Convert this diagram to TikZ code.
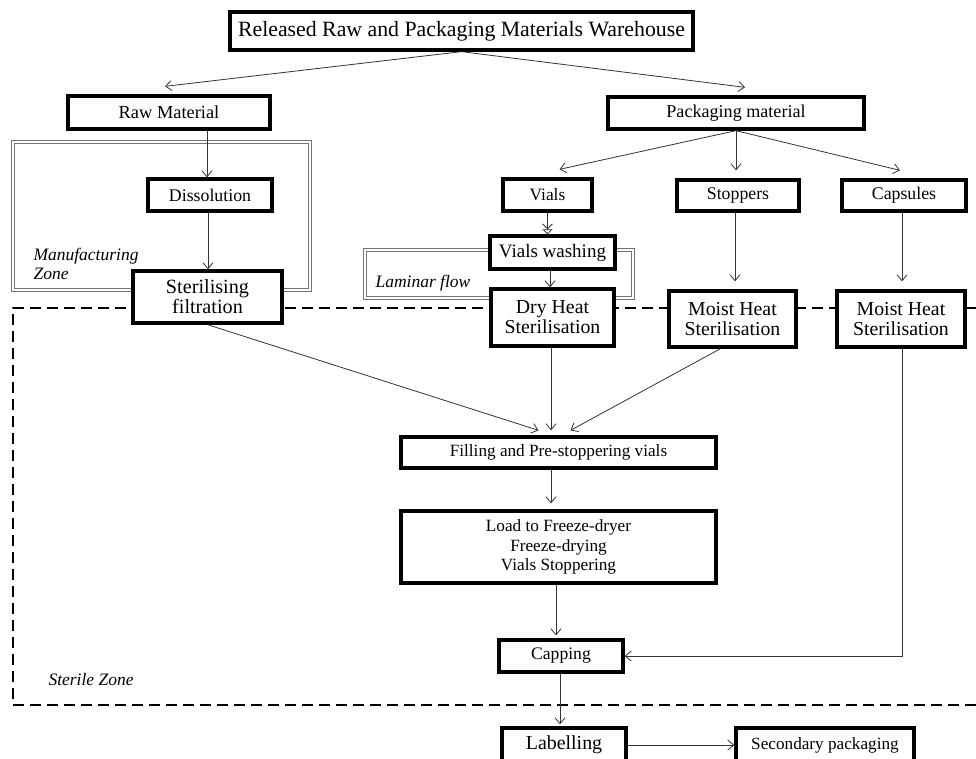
\documentclass[tikz,border=0pt]{standalone}
\usepackage{fontspec}
\setmainfont{Liberation Serif}
\usetikzlibrary{arrows.meta,positioning}
\begin{document}
\begin{tikzpicture}[x=1pt,y=-1pt,
  box/.style={draw,line width=3.3pt,inner sep=0pt,align=center,font=\fontsize{17.8}{19}\selectfont},
  conn/.style={draw=black!80,line width=0.8pt,-{Straight Barb[length=6pt,width=10pt]}},
  zone/.style={draw=black!55,double=white,double distance=1.6pt,line width=0.8pt},
  lbl/.style={font=\fontsize{17.5}{19}\selectfont\itshape,align=left,anchor=west}]
\useasboundingbox (0,0) rectangle (976,758);
% zones
\draw[zone] (13,142) rectangle (310,290);
\draw[zone] (365,250) rectangle (633,298);
\draw[line width=2.6pt,dash pattern=on 11pt off 6pt] (976,308) -- (13,308) -- (13,705) -- (976,705);
% nodes
\node[box,minimum width=463pt,minimum height=38pt,font=\fontsize{21.8}{23}\selectfont,fill=white] (wh) at (461.5,31) {Released Raw and Packaging Materials Warehouse};
\node[box,minimum width=202pt,minimum height=33pt,font=\fontsize{18.4}{19}\selectfont] (raw) at (169,112.5) {Raw Material};
\node[box,minimum width=256pt,minimum height=32pt,font=\fontsize{18.1}{19}\selectfont] (pack) at (736,113) {Packaging material};
\node[box,minimum width=124pt,minimum height=32pt] (dis) at (210,195) {Dissolution};
\node[box,minimum width=149pt,minimum height=52pt,fill=white,font=\fontsize{20.2}{20}\selectfont] (sf) at (207.5,297) {Sterilising\\filtration};
\node[box,minimum width=89pt,minimum height=32pt,font=\fontsize{17.4}{19}\selectfont] (vials) at (547.5,195) {Vials};
\node[box,minimum width=122pt,minimum height=31pt] (stop) at (738,195.5) {Stoppers};
\node[box,minimum width=124pt,minimum height=31pt] (caps) at (904,195.5) {Capsules};
\node[box,minimum width=125pt,minimum height=33pt,fill=white,font=\fontsize{19}{19}\selectfont] (vw) at (552.5,252.5) {Vials washing};
\node[box,minimum width=123pt,minimum height=57pt,fill=white,font=\fontsize{19.8}{20}\selectfont] (dh) at (552.5,317.5) {Dry Heat\\Sterilisation};
\node[box,minimum width=127pt,minimum height=56pt,fill=white,font=\fontsize{19.8}{20}\selectfont] (mh1) at (732.5,319) {Moist Heat\\Sterilisation};
\node[box,minimum width=128pt,minimum height=56pt,fill=white,font=\fontsize{19.8}{20}\selectfont] (mh2) at (901,319) {Moist Heat\\Sterilisation};
\node[box,minimum width=315pt,minimum height=31pt,font=\fontsize{17.2}{19}\selectfont] (fill) at (558.5,452.5) {Filling and Pre-stoppering vials};
\node[box,minimum width=315pt,minimum height=72pt,font=\fontsize{17.2}{19.5}\selectfont] (load) at (558.5,547) {Load to Freeze-dryer\\Freeze-drying\\Vials Stoppering};
\node[box,minimum width=124pt,minimum height=32pt,font=\fontsize{17.6}{19}\selectfont] (cap) at (561,656) {Capping};
\node[box,minimum width=124pt,minimum height=34pt,font=\fontsize{19.9}{20}\selectfont] (lab) at (564,745) {Labelling};
\node[box,minimum width=178pt,minimum height=34pt,font=\fontsize{17.2}{19}\selectfont] (sec) at (825,745) {Secondary packaging};
% labels
\node[lbl] (mz) at (30,264) {Manufacturing\\Zone};
\node[lbl] (lf) at (372,283) {Laminar flow};
\node[lbl] (sz) at (45,680) {Sterile Zone};
% connectors
\draw[conn] (wh.south) -- ([xshift=-4pt,yshift=8pt]raw.north);
\draw[conn] (wh.south) -- ([xshift=9pt,yshift=8pt]pack.north);
\draw[conn] (raw.south -| 207,0) -- (dis.north -| 207,0);
\draw[conn] (dis.south -| 208,0) -- (sf.north -| 208,0);
\draw[conn] (pack.south) -- ([xshift=12pt,yshift=8pt]vials.north);
\draw[conn] (pack.south) -- ([yshift=8pt]stop.north -| pack.south);
\draw[conn] (pack.south) -- ([xshift=-4pt,yshift=8pt]caps.north);
\draw[draw=black!80,line width=0.8pt,-{Straight Barb[length=5pt,width=10pt]Triangle[open,length=5pt,width=10pt]}] (vials.south) -- (vw.north -| vials.south);
\draw[conn] (vw.south -| 550,0) -- (dh.north -| 550,0);
\draw[conn] (stop.south -| 735,0) -- ([yshift=8pt]mh1.north -| 735,0);
\draw[conn] (caps.south -| 902,0) -- ([yshift=8pt]mh2.north -| 902,0);
\draw[conn] (sf.south) -- ([xshift=-20pt,yshift=5pt]fill.north);
\draw[conn] (dh.south -| 551,0) -- ([yshift=5pt]fill.north -| 551,0);
\draw[conn] ([xshift=-12pt]mh1.south) -- ([xshift=12pt,yshift=5pt]fill.north);
\draw[conn] (fill.south -| 551,0) -- ([yshift=6pt]load.north -| 551,0);
\draw[conn] (load.south -| 556,0) -- ([yshift=3pt]cap.north -| 556,0);
\draw[conn] (mh2.south -| 902,0) |- (cap.east);
\draw[conn] (cap.south -| 560,0) -- ([yshift=2pt]lab.north -| 560,0);
\draw[conn] (lab.east) -- (sec.west);
\end{tikzpicture}
\end{document}
